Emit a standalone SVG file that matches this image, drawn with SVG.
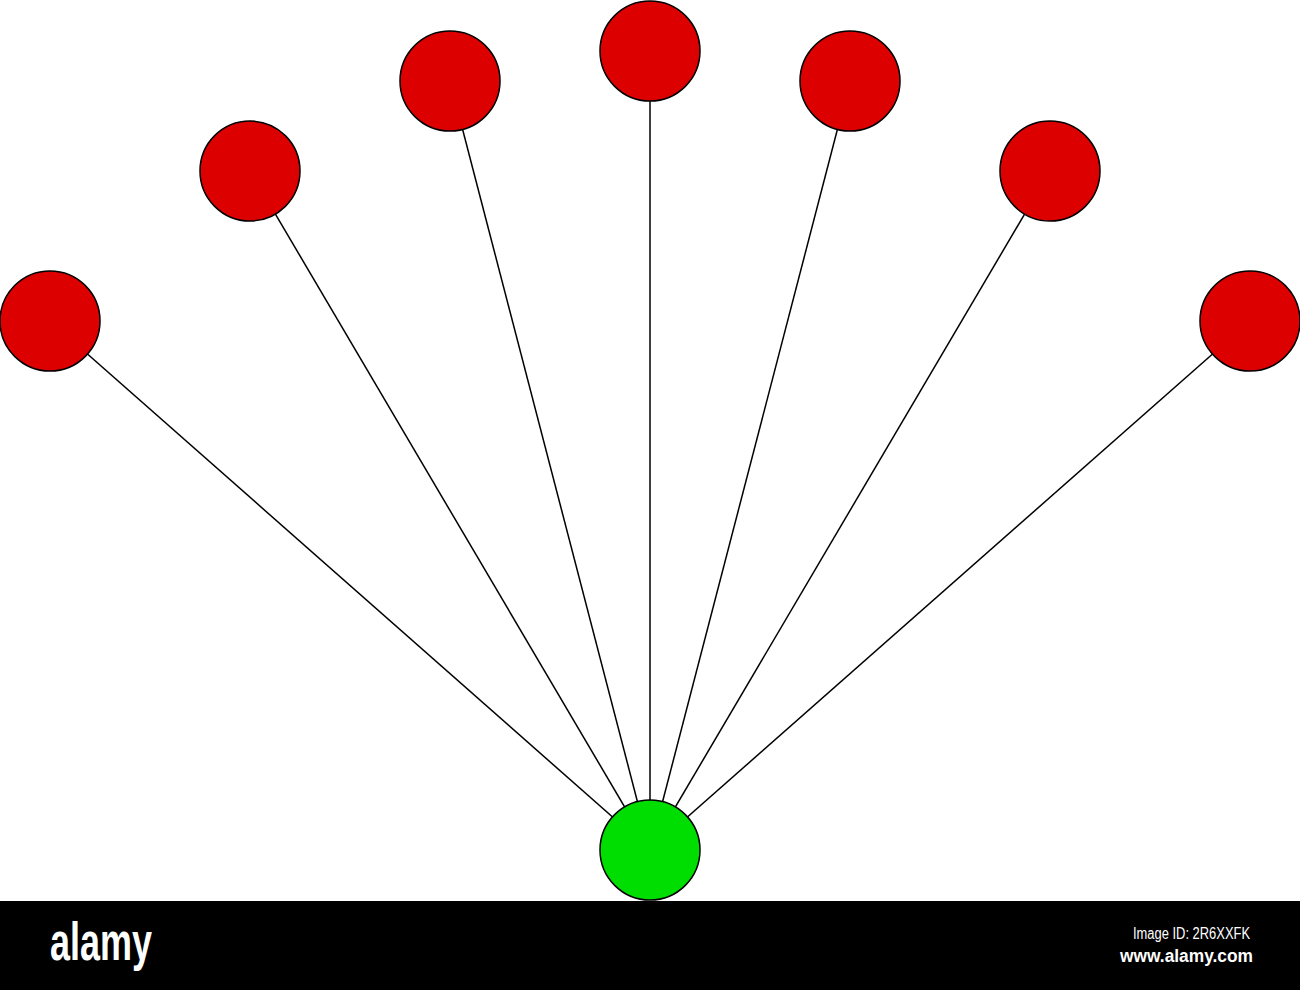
<svg xmlns="http://www.w3.org/2000/svg" width="1300" height="990" viewBox="0 0 1300 990">
<style>
.edge{stroke:#000;stroke-width:1.5;fill:none}
.red{fill:#dd0000;stroke:#000;stroke-width:1.5}
.green{fill:#00dd00;stroke:#000;stroke-width:1.5}
.wm{fill:#fff;font-family:"Liberation Sans",Arial,sans-serif}
</style>
<rect width="1300" height="990" fill="#fff"/>
<g id="connectors">
<line class="edge" x1="650" y1="850" x2="50" y2="321"/>
<line class="edge" x1="650" y1="850" x2="250" y2="171"/>
<line class="edge" x1="650" y1="850" x2="450" y2="81"/>
<line class="edge" x1="650" y1="850" x2="650" y2="51"/>
<line class="edge" x1="650" y1="850" x2="850" y2="81"/>
<line class="edge" x1="650" y1="850" x2="1050" y2="171"/>
<line class="edge" x1="650" y1="850" x2="1250" y2="321"/>
</g>
<g id="n1"><circle class="red" cx="50" cy="321" r="50"/></g>
<g id="n2"><circle class="red" cx="250" cy="171" r="50"/></g>
<g id="n3"><circle class="red" cx="450" cy="81" r="50"/></g>
<g id="n4"><circle class="red" cx="650" cy="51" r="50"/></g>
<g id="n5"><circle class="red" cx="850" cy="81" r="50"/></g>
<g id="n6"><circle class="red" cx="1050" cy="171" r="50"/></g>
<g id="n7"><circle class="red" cx="1250" cy="321" r="50"/></g>
<g id="root"><circle class="green" cx="650" cy="850" r="50"/></g>
<g id="watermark">
<rect x="0" y="901" width="1300" height="89" fill="#000"/>
<text class="wm" x="50" y="960" font-size="54" font-weight="bold" textLength="102" lengthAdjust="spacingAndGlyphs">alamy</text>
<text class="wm" x="1133" y="939" font-size="16" textLength="117" lengthAdjust="spacingAndGlyphs">Image ID: 2R6XXFK</text>
<text class="wm" x="1120" y="962" font-size="18" font-weight="bold" textLength="133" lengthAdjust="spacingAndGlyphs">www.alamy.com</text>
</g>
</svg>
